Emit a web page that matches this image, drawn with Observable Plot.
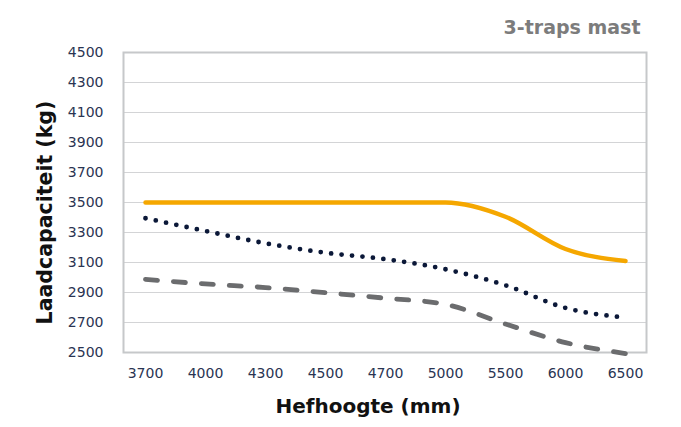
<!DOCTYPE html>
<html>
<head>
<meta charset="utf-8">
<script src="https://cdn.jsdelivr.net/npm/d3@7"></script>
<script src="https://cdn.jsdelivr.net/npm/@observablehq/plot@0.6"></script>
<style>
  html, body { margin: 0; padding: 0; background: #fff; }
  #chart { width: 681px; height: 427px; position: relative; }
  svg { font-family: "DejaVu Sans", sans-serif; }
</style>
</head>
<body>
<div id="chart"></div>
<script>
const title = "3-traps mast";
const xTitle = "Hefhoogte (mm)";
const yTitle = "Laadcapaciteit (kg)";
const hefhoogte = ["3700", "4000", "4300", "4500", "4700", "5000", "5500", "6000", "6500"];
const yTicks = [2500, 2700, 2900, 3100, 3300, 3500, 3700, 3900, 4100, 4300, 4500];
const serieOranje = [3500, 3500, 3500, 3500, 3500, 3500, 3405, 3190, 3110];
const serieStip   = [3395, 3310, 3228, 3165, 3122, 3055, 2948, 2797, 2733];
const serieStreep = [2988, 2957, 2933, 2899, 2862, 2821, 2690, 2566, 2493];

const rows = (vals) => hefhoogte.map((h, i) => ({h, v: vals[i]}));

const chart = Plot.plot({
  width: 681,
  height: 427,
  marginLeft: 123,
  marginRight: 35,
  marginTop: 52,
  marginBottom: 75,
  style: {fontFamily: "DejaVu Sans, sans-serif", background: "#fff"},
  x: {type: "point", domain: hefhoogte, padding: 0.33},
  y: {domain: [2500, 4500]},
  marks: [
    Plot.gridY(yTicks, {stroke: "#d3d4d6", strokeOpacity: 1, strokeWidth: 1.2}),
    Plot.frame({stroke: "#c6c8ca", strokeWidth: 2}),
    Plot.axisY(yTicks, {tickSize: 0, tickPadding: 20, fontSize: 14, fill: "#2a3452", tickFormat: "d", label: null}),
    Plot.axisX({tickSize: 0, tickPadding: 16, fontSize: 14, fill: "#2a3452", label: null}),
    Plot.text([yTitle], {frameAnchor: "left", textAnchor: "middle", lineAnchor: "middle", dx: -78, dy: 10, rotate: -90, fontSize: 20.5, fontWeight: "bold", fill: "#111"}),
    Plot.text([xTitle], {frameAnchor: "bottom", dx: -17, dy: 60, fontSize: 20, fontWeight: "bold", fill: "#111"}),
    Plot.text([title], {frameAnchor: "top-right", textAnchor: "end", dx: -6, dy: -32, fontSize: 19, fontWeight: 600, fill: "#7c7c7c"}),
    Plot.line(rows(serieStreep), {x: "h", y: "v", stroke: "#6b6c6e", strokeWidth: 4.8, strokeDasharray: "12 16", strokeLinecap: "round", curve: "monotone-x"}),
    Plot.line(rows(serieStip), {x: "h", y: "v", stroke: "#0b1838", strokeWidth: 4.8, strokeDasharray: "0 10.5", strokeLinecap: "round", curve: "monotone-x"}),
    Plot.line(rows(serieOranje), {x: "h", y: "v", stroke: "#f5a700", strokeWidth: 4.5, strokeLinecap: "round", curve: "monotone-x"})
  ]
});
document.getElementById("chart").appendChild(chart);
</script>
</body>
</html>
